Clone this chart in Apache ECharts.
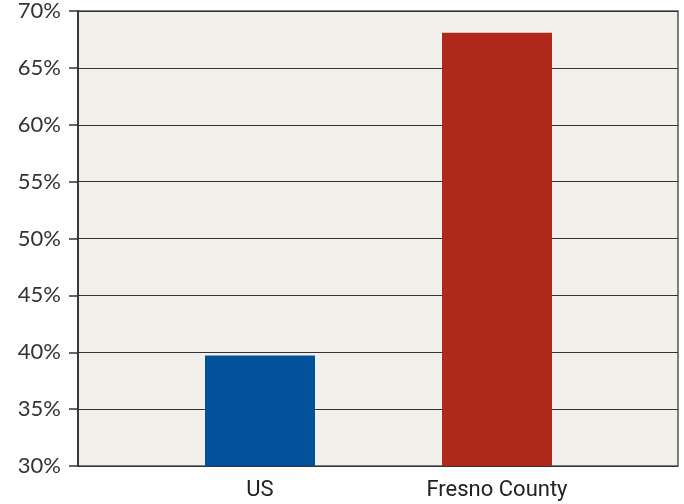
<!DOCTYPE html>
<html><head><meta charset="utf-8">
<script src="https://cdn.jsdelivr.net/npm/echarts@6/dist/echarts.min.js"></script>
<style>html,body{margin:0;padding:0;background:#fff;}#c{width:684px;height:504px;}</style>
</head><body><div id="c"></div>
<script>
const categories = ['US', 'Fresno County'];
const values = [39.7, 68.0];
const barColors = ['#03519b', '#b0281a'];
const yMin = 30, yMax = 70, yStep = 5;

const chart = echarts.init(document.getElementById('c'), null, {renderer: 'canvas'});
chart.setOption({
  animation: false,
  grid: [
    {left: 78, top: 10, width: 600, height: 456, show: true, backgroundColor: '#f1f0ea', borderColor: '#555', borderWidth: 1.5},
    {left: 141.5, top: 10, width: 474, height: 456}
  ],
  xAxis: [
    {type: 'value', gridIndex: 0, show: false, min: 0, max: 1},
    {type: 'category', gridIndex: 1, data: categories,
     axisLine: {show: false}, axisTick: {show: false},
     axisLabel: {color: '#222', fontFamily: 'Roboto', fontSize: 22, margin: 13}}
  ],
  yAxis: [
    {type: 'value', gridIndex: 0, min: yMin, max: yMax, interval: yStep,
     axisLine: {show: true, lineStyle: {color: '#222', width: 1.5}},
     axisTick: {show: true, length: 9, lineStyle: {color: '#333', width: 1.5}},
     axisLabel: {formatter: '{value}%', color: '#333', fontFamily: 'Lato', fontSize: 22, margin: 17},
     splitLine: {show: true, lineStyle: {color: '#333', width: 1.2}}},
    {type: 'value', gridIndex: 1, min: yMin, max: yMax, show: false, splitLine: {show: false}}
  ],
  series: [{
    type: 'bar', xAxisIndex: 1, yAxisIndex: 1, barWidth: 110,
    data: values.map((v, i) => ({value: v, itemStyle: {color: barColors[i]}}))
  }]
});
</script></body></html>
